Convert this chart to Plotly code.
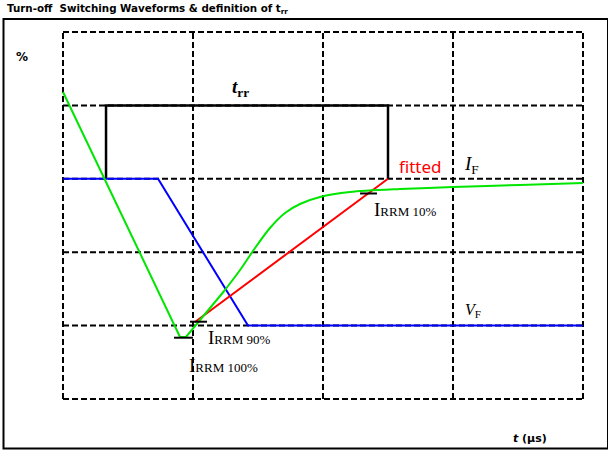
import plotly.graph_objects as go

# ---- data (in grid-division units: x 0..4, y 0..5) ----
green_x = [0.0, 0.90, 0.946, 1.246, 1.362, 1.477, 1.592, 1.708, 1.823, 1.977, 2.208, 2.592, 3.0, 3.515, 4.0]
green_y = [4.183, 0.845, 0.845, 1.485, 1.757, 2.057, 2.330, 2.534, 2.657, 2.752, 2.820, 2.861, 2.888, 2.916, 2.943]
blue_x = [0.0, 0.731, 1.423, 4.0]
blue_y = [3.0, 3.0, 1.0, 1.0]
red_x = [1.015, 2.5]
red_y = [1.049, 3.0]
trr_x = [0.331, 0.331, 2.5, 2.5]
trr_y = [3.0, 4.0, 4.0, 3.0]
irrm_levels = [0.835, 1.053, 2.80]          # 100 %, 90 %, 10 %
irrm_x0 = [0.854, 0.977, 2.285]
irrm_x1 = [1.0, 1.108, 2.415]
grid_x = [0, 1, 2, 3, 4]
grid_y = [0, 1, 2, 3, 4, 5]

W, H = 608, 450
PX0, PXU = 63, 130.0      # pixel of x=0, pixels per x unit
PY0, PYU = 399, 73.4      # pixel of y=0, pixels per y unit


def dx(px):
    return (px - PX0) / PXU


def dy(py):
    return (PY0 - py) / PYU


fig = go.Figure()

shapes = []
dash = "6px,3px"
for gx in grid_x:
    shapes.append(dict(type="line", xref="x", yref="y", x0=gx, x1=gx, y0=0, y1=5,
                       line=dict(color="black", width=2, dash=dash), layer="below"))
for gy in grid_y:
    shapes.append(dict(type="line", xref="x", yref="y", x0=0, x1=4, y0=gy, y1=gy,
                       line=dict(color="black", width=2, dash=dash), layer="below"))
# outer frame
shapes.append(dict(type="rect", xref="x", yref="y", x0=dx(3.5), x1=dx(608), y0=dy(448.5), y1=dy(19),
                   line=dict(color="black", width=2), layer="below"))
for lv, a, b in zip(irrm_levels, irrm_x0, irrm_x1):
    shapes.append(dict(type="line", xref="x", yref="y", x0=a, x1=b, y0=lv, y1=lv,
                       line=dict(color="black", width=2)))

GREEN = "#00e600"
fig.add_trace(go.Scatter(x=trr_x, y=trr_y, mode="lines", line=dict(color="black", width=2.5),
                         hoverinfo="skip"))
fig.add_trace(go.Scatter(x=blue_x, y=blue_y, mode="lines", line=dict(color="#0000ff", width=2),
                         hoverinfo="skip"))
fig.add_trace(go.Scatter(x=red_x, y=red_y, mode="lines", line=dict(color="#ff0000", width=2),
                         hoverinfo="skip"))
# green: straight fall and bottom, then smooth recovery
fig.add_trace(go.Scatter(x=green_x[:4], y=green_y[:4], mode="lines",
                         line=dict(color=GREEN, width=2), hoverinfo="skip"))
fig.add_trace(go.Scatter(x=green_x[3:], y=green_y[3:], mode="lines",
                         line=dict(color=GREEN, width=2, shape="spline", smoothing=0.8),
                         hoverinfo="skip"))

serif = "Liberation Serif"
ann = []


def A(text, px, py, size, family, color="black", xanchor="center"):
    ann.append(dict(text=text, x=dx(px), y=dy(py), xref="x", yref="y", showarrow=False,
                    xanchor=xanchor, yanchor="middle", font=dict(size=size, family=family, color=color)))


A("<b>Turn-off&nbsp; Switching Waveforms &amp; definition of t<sub>rr</sub></b>", 5, 9, 10.3,
  "DejaVu Sans", xanchor="left")
A("<b>%</b>", 22, 57, 12, "DejaVu Sans")
A("<b><i>t</i> (µs)</b>", 530, 438, 11, "DejaVu Sans")
A("<b><i>t</i><sub>rr</sub></b>", 240, 88, 19, serif)
A("fitted", 420, 166, 17, "Noto Sans", color="#ff0000")
A("<i>I</i><sub>F</sub>", 471, 165, 19, serif)
A("<i>V</i><sub>F</sub>", 473, 310, 16, serif)
A("I<span style='font-size:13px'>RRM 10%</span>", 405, 209, 19, serif)
A("I<span style='font-size:13px'>RRM 90%</span>", 239, 337, 19, serif)
A("I<span style='font-size:13px'>RRM 100%</span>", 223, 365, 19, serif)

fig.update_layout(
    width=W, height=H, margin=dict(l=0, r=0, t=0, b=0),
    paper_bgcolor="white", plot_bgcolor="white", showlegend=False,
    xaxis=dict(range=[dx(0), dx(W)], visible=False, fixedrange=True),
    yaxis=dict(range=[dy(H), dy(0)], visible=False, fixedrange=True),
    shapes=shapes, annotations=ann,
)
fig.write_html("out.html", config={"displayModeBar": False},
               post_script="document.body.style.margin='0';document.body.style.overflow='hidden';")
